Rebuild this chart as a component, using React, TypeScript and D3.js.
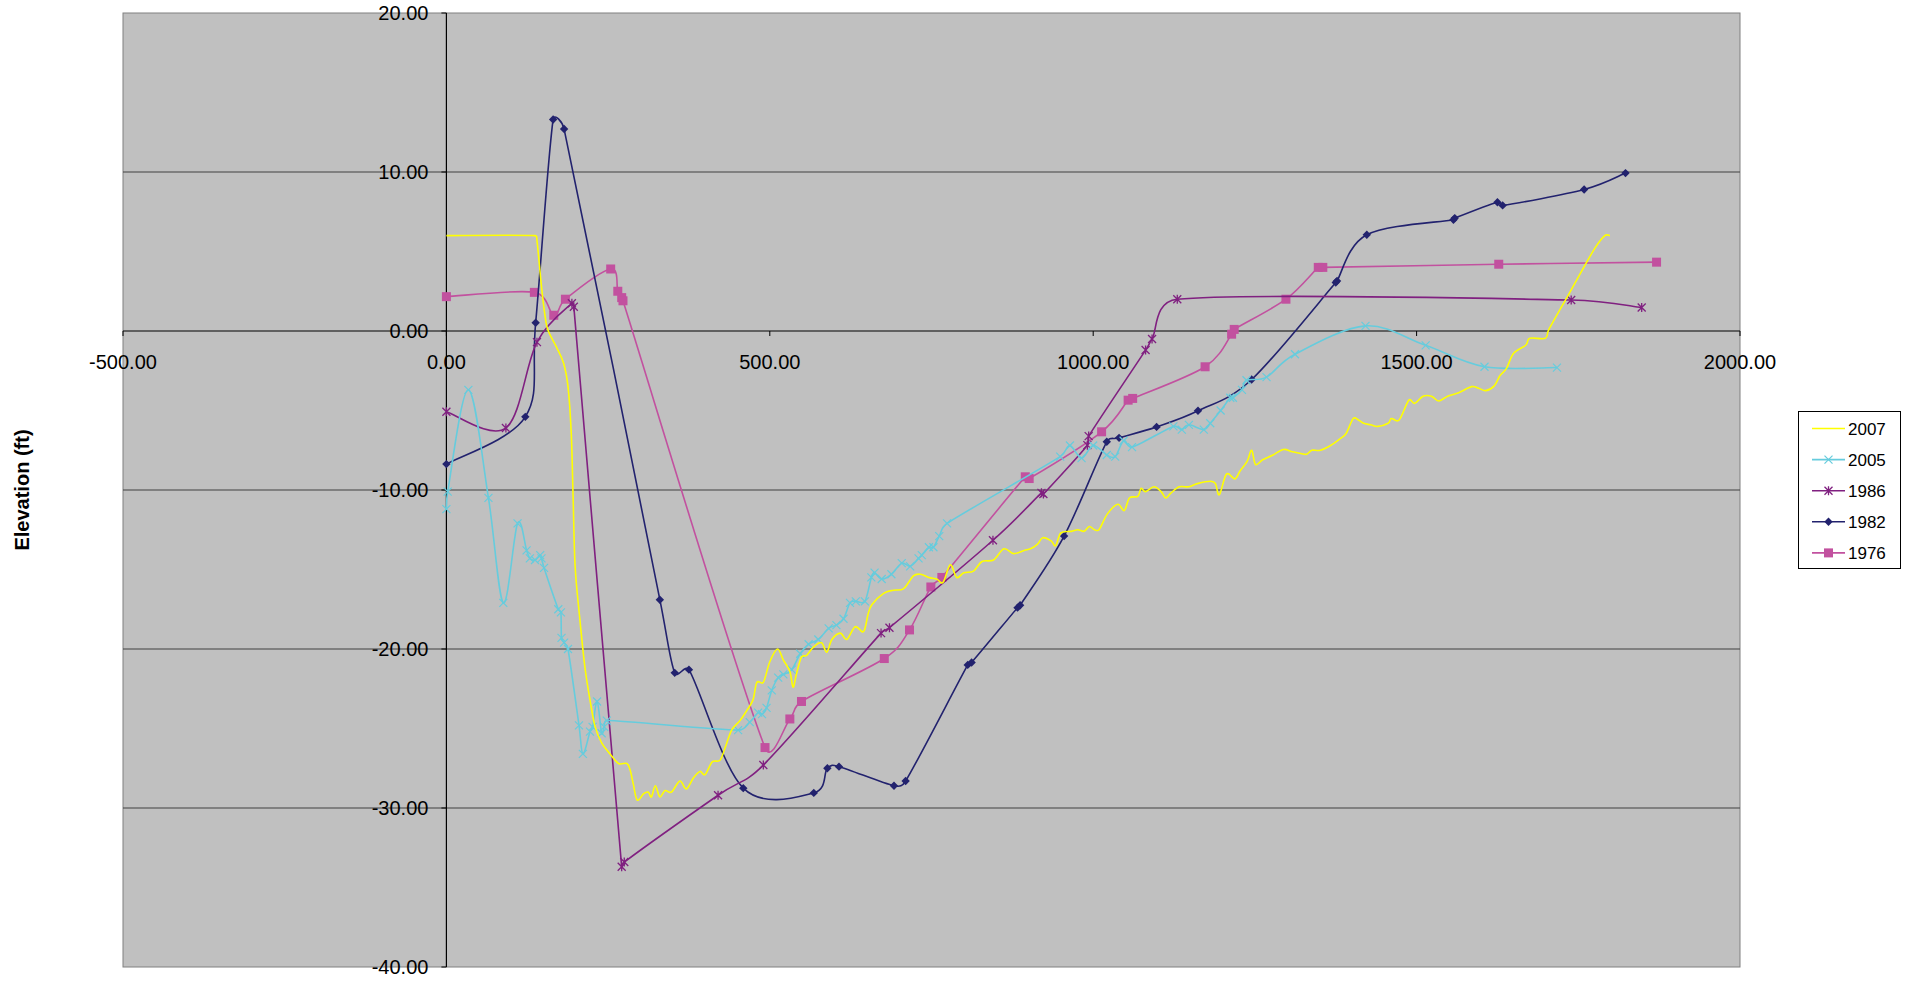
import React from "react";
import * as d3 from "d3";

type P = [number, number];

const seriesNames = ["2007", "2005", "1986", "1982", "1976"];

const s2007: P[] = [
  [0, 6.0], [137, 6.0], [140, 5.7], [147, 2.8], [152, 1.1], [157, 0.06], [170, -1.0], [181, -2.0], [188, -3.5],
  [193, -6.4], [196, -10.6], [199, -14.8], [206, -18.0], [214, -21.1], [222, -23.2], [230, -24.9], [240, -25.9],
  [253, -26.6], [266, -27.2], [279, -27.2], [284, -27.6], [289, -28.5], [295, -29.5], [305, -29.1], [312, -29.0],
  [317, -29.3], [323, -28.6], [330, -29.3], [338, -28.9], [348, -29.0], [361, -28.3], [371, -28.8], [382, -28.1],
  [392, -27.7], [400, -27.9], [411, -27.1], [423, -27.0], [431, -26.2], [441, -25.1], [454, -24.5], [464, -23.9],
  [474, -23.2], [480, -22.1], [490, -22.1], [500, -20.8], [512, -20.0], [521, -20.7], [531, -21.4], [536, -22.4],
  [541, -21.6], [549, -20.5], [557, -20.4], [567, -19.9], [580, -19.6], [588, -20.2], [596, -19.4], [609, -19.0],
  [619, -19.4], [632, -18.6], [645, -18.9], [652, -17.8], [658, -17.2], [676, -16.5], [691, -16.3], [707, -16.2],
  [722, -15.4], [733, -15.3], [746, -15.5], [758, -15.6], [768, -15.8], [779, -14.7], [789, -15.5], [800, -15.2],
  [815, -15.1], [828, -14.5], [846, -14.4], [862, -13.7], [877, -14.0], [893, -13.8], [903, -13.7], [914, -13.4],
  [922, -13.0], [935, -13.2], [942, -13.5], [950, -12.7], [966, -12.6], [976, -12.5], [986, -12.6], [994, -12.3],
  [1002, -12.5], [1009, -12.5], [1022, -11.5], [1038, -10.9], [1048, -11.3], [1056, -10.5], [1069, -10.4],
  [1074, -9.9], [1081, -10.1], [1094, -9.8], [1105, -10.1], [1112, -10.5], [1120, -10.2], [1133, -9.8],
  [1148, -9.8], [1161, -9.6], [1181, -9.45], [1189, -9.6], [1195, -10.3], [1206, -9.0], [1219, -9.3],
  [1227, -8.8], [1238, -8.2], [1245, -7.5], [1251, -8.4], [1262, -8.1], [1278, -7.8], [1294, -7.45],
  [1308, -7.6], [1321, -7.7], [1330, -7.75], [1338, -7.5], [1351, -7.5], [1367, -7.2], [1381, -6.8],
  [1391, -6.45], [1402, -5.5], [1410, -5.6], [1418, -5.8], [1429, -5.9], [1440, -6.0], [1456, -5.8],
  [1461, -5.5], [1473, -5.6], [1488, -4.35], [1497, -4.55], [1510, -4.1], [1523, -4.1], [1534, -4.4],
  [1548, -4.1], [1564, -3.9], [1585, -3.5], [1596, -3.6], [1607, -3.75], [1620, -3.45], [1629, -2.8],
  [1639, -2.35], [1650, -1.4], [1669, -0.88], [1675, -0.46], [1699, -0.46], [1704, 0.06], [1736, 2.37],
  [1774, 5.1], [1791, 6.0], [1799, 6.0],
];

const s2005: P[] = [
  [0, -11.2], [2, -10.1], [34, -3.7], [65, -10.5], [88, -17.1], [110, -12.1], [124, -13.8], [129, -14.3],
  [137, -14.4], [145, -14.1], [147, -14.3], [151, -14.9], [173, -17.5], [177, -17.7], [178, -19.3], [182, -19.6],
  [188, -20.0], [205, -24.8], [211, -26.6], [222, -25.2], [226, -24.9], [233, -23.3], [240, -25.3], [244, -24.9],
  [248, -24.5], [451, -25.1], [469, -24.6], [482, -24.0], [488, -24.1], [495, -23.7], [503, -22.6], [513, -21.8],
  [521, -21.6], [534, -21.3], [547, -20.3], [560, -19.7], [575, -19.4], [591, -18.7], [603, -18.5], [614, -18.1],
  [624, -17.1], [633, -17.0], [647, -17.0], [657, -15.5], [662, -15.2], [673, -15.6], [688, -15.3], [704, -14.6],
  [717, -14.8], [730, -14.3], [735, -14.1], [746, -13.6], [753, -13.6], [762, -12.9], [774, -12.1], [949, -7.9],
  [964, -7.2], [982, -8.0], [1000, -7.2], [1021, -7.8], [1034, -7.9], [1047, -6.9], [1060, -7.3], [1124, -6.0],
  [1137, -6.2], [1148, -5.9], [1171, -6.2], [1181, -5.8], [1197, -5.0], [1212, -4.2], [1216, -4.2], [1230, -3.7],
  [1237, -3.1], [1268, -2.9], [1312, -1.46], [1421, 0.32], [1514, -0.9], [1605, -2.25], [1717, -2.3],
];

const s1986: P[] = [
  [0, -5.08], [92, -6.1], [140, -0.7], [194, 1.74], [197, 1.53], [271, -33.7], [275, -33.4], [420, -29.2],
  [490, -27.3], [672, -19.0], [685, -18.66], [845, -13.16], [920, -10.18], [923, -10.25], [991, -7.18],
  [993, -6.61], [1081, -1.2], [1091, -0.5], [1130, 2.0], [1739, 1.95], [1848, 1.48],
];

const s1982: P[] = [
  [0, -8.37], [122, -5.4], [138, 0.52], [165, 13.3], [182, 12.7], [330, -16.9], [353, -21.5], [375, -21.3],
  [459, -28.75], [568, -29.05], [589, -27.5], [607, -27.4], [692, -28.6], [710, -28.3], [806, -21.0],
  [812, -20.85], [883, -17.4], [887, -17.25], [955, -12.9], [1021, -6.97], [1040, -6.72], [1098, -6.03],
  [1162, -5.02], [1245, -3.05], [1375, 3.05], [1377, 3.15], [1423, 6.05], [1557, 7.0], [1559, 7.1],
  [1625, 8.1], [1633, 7.9], [1759, 8.9], [1823, 9.93],
];

const s1976: P[] = [
  [0, 2.16], [136, 2.43], [166, 0.99], [184, 2.0], [254, 3.9], [265, 2.5], [271, 2.1], [273, 1.9],
  [492.6, -26.2], [531, -24.4], [549, -23.3], [677, -20.6], [716, -18.8], [749, -16.1], [766, -15.5],
  [895, -9.17], [901, -9.28], [1013, -6.34], [1054, -4.35], [1061, -4.24], [1173, -2.25], [1214, -0.2],
  [1218, 0.1], [1298, 2.0], [1348, 4.0], [1355, 4.0], [1627, 4.2], [1871, 4.33],
];

const xTicks = [-500, 0, 500, 1000, 1500, 2000];
const yTicks = [20, 10, 0, -10, -20, -30, -40];

const colors: Record<string, string> = {
  "2007": "#FFFF00",
  "2005": "#66CCDD",
  "1986": "#802080",
  "1982": "#22226E",
  "1976": "#C2519F",
};
const markers: Record<string, string> = {
  "2007": "none",
  "2005": "x",
  "1986": "star",
  "1982": "diamond",
  "1976": "square",
};
const dataByName: Record<string, P[]> = {
  "2007": s2007,
  "2005": s2005,
  "1986": s1986,
  "1982": s1982,
  "1976": s1976,
};

const FONT = "'Liberation Sans', Arial, Helvetica, sans-serif";

// Excel-like smoothed line: Bezier with 1/6 tangents, limited to half the segment length
function smoothPath(pts: P[]): string {
  const p = d3.path();
  const n = pts.length;
  if (n === 0) return "";
  const dist = (a: P, b: P) => Math.hypot(b[0] - a[0], b[1] - a[1]);
  p.moveTo(pts[0][0], pts[0][1]);
  for (let i = 0; i < n - 1; i++) {
    const P0 = pts[i - 1] || pts[i];
    const P1 = pts[i];
    const P2 = pts[i + 1];
    const P3 = pts[i + 2] || pts[i + 1];
    const d12 = dist(P1, P2);
    const d02 = dist(P0, P2);
    const d13 = dist(P1, P3);
    let f1 = 1 / 6;
    let f2 = 1 / 6;
    if (d02 / 6 > d12 / 2 && d02 > 0) f1 = d12 / (2 * d02);
    if (d13 / 6 > d12 / 2 && d13 > 0) f2 = d12 / (2 * d13);
    const c1: P = [P1[0] + f1 * (P2[0] - P0[0]), P1[1] + f1 * (P2[1] - P0[1])];
    const c2: P = [P2[0] - f2 * (P3[0] - P1[0]), P2[1] - f2 * (P3[1] - P1[1])];
    p.bezierCurveTo(c1[0], c1[1], c2[0], c2[1], P2[0], P2[1]);
  }
  return p.toString();
}

function Marker({ type, x, y, color }: { type: string; x: number; y: number; color: string }) {
  if (type === "square") {
    return <rect x={x - 4.5} y={y - 4.5} width={9} height={9} fill={color} />;
  }
  if (type === "diamond") {
    const r = 4.2;
    return <path d={`M${x},${y - r}L${x + r},${y}L${x},${y + r}L${x - r},${y}Z`} fill={color} />;
  }
  if (type === "x") {
    const r = 4;
    return (
      <path d={`M${x - r},${y - r}L${x + r},${y + r}M${x - r},${y + r}L${x + r},${y - r}`} stroke={color} strokeWidth={1.2} fill="none" />
    );
  }
  if (type === "star") {
    const r = 4;
    return (
      <path
        d={`M${x - r},${y - r}L${x + r},${y + r}M${x - r},${y + r}L${x + r},${y - r}M${x},${y - r - 0.5}L${x},${y + r + 0.5}`}
        stroke={color}
        strokeWidth={1.3}
        fill="none"
      />
    );
  }
  return null;
}

export default function App() {
  const left = 123;
  const right = 1740;
  const top = 13;
  const bottom = 967;
  const x = d3.scaleLinear().domain([-500, 2000]).range([left, right]);
  const y = d3.scaleLinear().domain([-40, 20]).range([bottom, top]);
  const toPx = (arr: P[]): P[] => arr.map((d) => [x(d[0]), y(d[1])] as P);

  const x0 = x(0);
  const y0 = y(0);
  const drawOrder = ["1976", "1982", "1986", "2005", "2007"];

  const legX = 1798.5;
  const legY = 411.5;

  return (
    <svg
      width={1915}
      height={981}
      style={{ position: "absolute", left: 0, top: 0, background: "#ffffff" }}
      fontFamily={FONT}
    >
      <rect x={left} y={top} width={right - left} height={bottom - top} fill="#C0C0C0" stroke="#808080" strokeWidth={1} />
      {yTicks
        .filter((t) => t !== 20 && t !== -40 && t !== 0)
        .map((t) => (
          <line key={"g" + t} x1={left} x2={right} y1={y(t)} y2={y(t)} stroke="#404040" strokeWidth={1.2} />
        ))}
      {/* axes */}
      <line x1={x0} x2={x0} y1={top} y2={bottom} stroke="#000" strokeWidth={1.2} />
      <line x1={left} x2={right} y1={y0} y2={y0} stroke="#000" strokeWidth={1.2} />
      {xTicks.map((t) => (
        <line key={"xt" + t} x1={x(t)} x2={x(t)} y1={y0} y2={y0 + 5} stroke="#000" strokeWidth={1} />
      ))}
      {yTicks.map((t) => (
        <line key={"yt" + t} x1={x0 - 5} x2={x0} y1={y(t)} y2={y(t)} stroke="#000" strokeWidth={1} />
      ))}
      {xTicks.map((t) => (
        <text key={"xl" + t} x={x(t)} y={y0 + 38} textAnchor="middle" fontSize={20} fill="#000">
          {t.toFixed(2)}
        </text>
      ))}
      {yTicks.map((t) => (
        <text key={"yl" + t} x={x0 - 18} y={y(t)} dy="0.36em" textAnchor="end" fontSize={20} fill="#000">
          {t.toFixed(2)}
        </text>
      ))}
      {/* series */}
      {drawOrder.map((name) => (
        <g key={name}>
          <path d={smoothPath(toPx(dataByName[name]))} fill="none" stroke={colors[name]} strokeWidth={1.6} />
          {dataByName[name].map((d, i) => (
            <Marker key={i} type={markers[name]} x={x(d[0])} y={y(d[1])} color={colors[name]} />
          ))}
        </g>
      ))}
      {/* y axis title */}
      <text
        transform={`translate(29, ${(top + bottom) / 2}) rotate(-90)`}
        textAnchor="middle"
        fontSize={20}
        fontWeight="bold"
        fill="#000"
      >
        Elevation (ft)
      </text>
      {/* legend */}
      <rect x={legX} y={legY} width={102} height={157} fill="#ffffff" stroke="#000" strokeWidth={1} />
      {seriesNames.map((name, i) => {
        const cy = 428.5 + i * 31.1;
        return (
          <g key={"leg" + name}>
            <line x1={1812} x2={1845} y1={cy} y2={cy} stroke={colors[name]} strokeWidth={1.6} />
            <Marker type={markers[name]} x={1828.5} y={cy} color={colors[name]} />
            <text x={1848} y={cy} dy="0.36em" fontSize={17} fill="#000">
              {name}
            </text>
          </g>
        );
      })}
    </svg>
  );
}
